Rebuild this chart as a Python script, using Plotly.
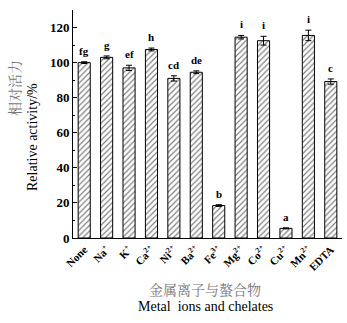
import plotly.graph_objects as go

categories = ["None", "Na<sup>+</sup>", "K<sup>+</sup>", "Ca<sup>2+</sup>", "Ni<sup>2+</sup>", "Ba<sup>2+</sup>",
              "Fe<sup>3+</sup>", "Mg<sup>2+</sup>", "Co<sup>2+</sup>", "Cu<sup>2+</sup>", "Mn<sup>2+</sup>", "EDTA"]
values = [100, 103, 97, 107.5, 91, 94.5, 18.5, 114.5, 112.5, 5.5, 115.5, 89.2]
errors = [0.5, 0.8, 1.5, 0.8, 1.5, 0.8, 0.5, 1.0, 2.5, 0.3, 3.0, 1.5]
letters = ["fg", "g", "ef", "h", "cd", "de", "b", "i", "i", "a", "i", "c"]
y_ticks = [0, 20, 40, 60, 80, 100, 120]

serif = "Liberation Serif, Times New Roman, serif"
cjk = "Noto Serif CJK SC, Noto Sans CJK SC, serif"

x = list(range(len(categories)))

fig = go.Figure()
fig.add_trace(go.Bar(
    x=x, y=values, width=0.54,
    marker=dict(color="white", line=dict(color="black", width=1),
                pattern=dict(shape="/", fgcolor="black", bgcolor="white", size=4, solidity=0.3)),
    error_y=dict(type="data", array=errors, color="black", thickness=1, width=3),
    showlegend=False,
))

for xi, v, e, t in zip(x, values, errors, letters):
    fig.add_annotation(x=xi, y=v + e, text="<b>%s</b>" % t, showarrow=False,
                       yanchor="bottom", yshift=3, font=dict(family=serif, size=11, color="black"))

def paper_ann(px, py, text, font, angle=0):
    fig.add_annotation(xref="paper", yref="paper", x=(px - 73) / 269, y=(238 - py) / 228,
                       xanchor="center", yanchor="middle", text=text, textangle=angle,
                       showarrow=False, font=font)

paper_ann(14, 88, "相对活力", dict(family=cjk, size=14, color="#777777"), -90)
paper_ann(32, 137, "Relative activity/%", dict(family=serif, size=14, color="black"), -90)
paper_ann(205, 289, "金属离子与螯合物", dict(family=cjk, size=14, color="#777777"))
paper_ann(205, 306, "Metal  ions and chelates", dict(family=serif, size=14, color="black"))

fig.update_layout(
    width=347, height=323,
    margin=dict(l=73, r=5, t=10, b=85),
    plot_bgcolor="white", paper_bgcolor="white",
    xaxis=dict(range=[-0.5, 11.5], tickmode="array", tickvals=x, ticktext=["<b>%s</b>" % c for c in categories],
               tickangle=-45, tickfont=dict(family=serif, size=11, color="black"),
               showline=True, linecolor="black", linewidth=1, ticks="", showgrid=False, zeroline=False),
    yaxis=dict(range=[0, 130], tickmode="array", tickvals=y_ticks, ticktext=["<b>%d</b>" % v for v in y_ticks],
               tickfont=dict(family=serif, size=13, color="black"),
               showline=True, linecolor="black", linewidth=1, ticks="inside", ticklen=4, tickcolor="black",
               minor=dict(ticks="inside", ticklen=2, tickcolor="black", dtick=10, tick0=0),
               showgrid=False, zeroline=False),
)

fig.write_html("out.html")
